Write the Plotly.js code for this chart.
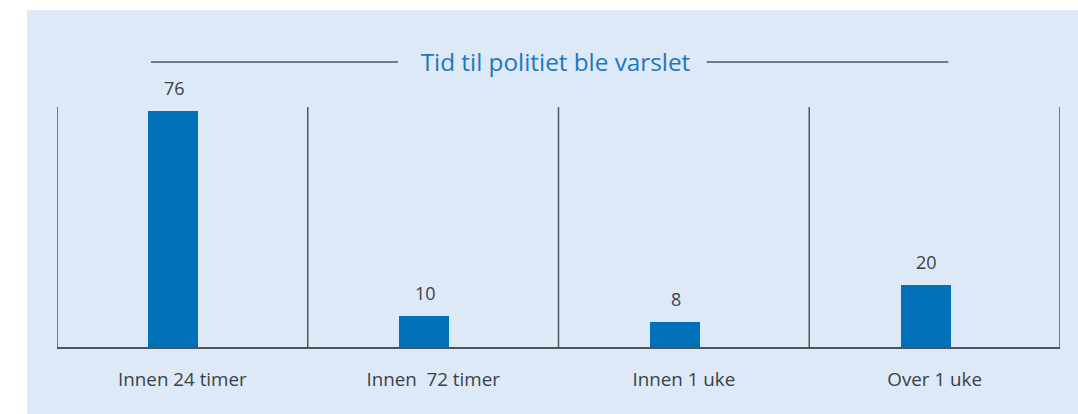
<!DOCTYPE html>
<html>
<head>
<meta charset="utf-8">
<script src="https://cdn.plot.ly/plotly-3.0.1.min.js"></script>
<style>
  html, body { margin: 0; padding: 0; background: #ffffff; }
  #plot { width: 1078px; height: 414px; }
</style>
</head>
<body>
<div id="plot"></div>
<script>
// data
const categories = ["Innen 24 timer", "Innen\u00a0 72 timer", "Innen 1 uke", "Over 1 uke"];
const counts = [76, 10, 8, 20];
const chartTitle = "Tid til politiet ble varslet";

const panelColor = "#dde9f6";
const barColor = "#0070b8";
const titleColor = "#1a78c2";
const textColor = "#3c4046";
const lineColor = "#50555c";

let bars = {
    type: "bar",
    x: categories,
    y: counts,
    width: 0.2,
    offset: -0.136,
    marker: { color: barColor, line: { width: 0 } },
    hoverinfo: "skip"
};

// value labels above each bar
let labels = categories.map((c, i) => ({
    x: c,
    y: counts[i],
    xref: "x",
    yref: "y",
    text: String(counts[i]),
    showarrow: false,
    xanchor: "center",
    yanchor: "bottom",
    xshift: -8,
    yshift: 9,
    font: { family: "Open Sans", size: 18, color: textColor }
}));

// dividers between categories
let dividers = [];
for (let i = 0; i <= categories.length; i++) {
    dividers.push({
        type: "line", xref: "x", yref: "paper",
        x0: i - 0.5, x1: i - 0.5, y0: 0, y1: 1,
        line: { color: lineColor, width: 1.5 }
    });
}

let shapes = [
    // light blue panel
    {
        type: "rect", xref: "paper", yref: "paper", layer: "below",
        x0: -0.0299, x1: 1.02, y0: -0.3, y1: 1.404,
        fillcolor: panelColor, line: { width: 0 }
    },
    // lines either side of title
    { type: "line", xref: "paper", yref: "paper", x0: 0.0937, x1: 0.340, y0: 1.1875, y1: 1.1875, line: { color: lineColor, width: 1.5 } },
    { type: "line", xref: "paper", yref: "paper", x0: 0.6477, x1: 0.8886, y0: 1.1875, y1: 1.1875, line: { color: lineColor, width: 1.5 } }
].concat(dividers);

let layout = {
    width: 1078,
    height: 414,
    margin: { l: 57, r: 18, t: 107, b: 67 },
    paper_bgcolor: "#ffffff",
    plot_bgcolor: "rgba(0,0,0,0)",
    showlegend: false,
    title: {
        text: chartTitle,
        xref: "paper", x: 0.497, xanchor: "center",
        yref: "container", y: 0.85, yanchor: "middle",
        font: { family: "Open Sans", size: 24.3, color: titleColor }
    },
    xaxis: {
        type: "category",
        range: [-0.5, 3.5],
        showgrid: false,
        zeroline: false,
        showline: true,
        linecolor: lineColor,
        linewidth: 1.5,
        ticks: "",
        ticklabelstandoff: 15,
        tickfont: { family: "Open Sans", size: 18.8, color: textColor },
        fixedrange: true
    },
    yaxis: {
        range: [0, 77.4],
        showgrid: false,
        zeroline: false,
        showline: false,
        showticklabels: false,
        ticks: "",
        fixedrange: true
    },
    shapes: shapes,
    annotations: labels,
    bargap: 0
};

Plotly.newPlot("plot", [bars], layout, { displayModeBar: false, staticPlot: true });
</script>
</body>
</html>
